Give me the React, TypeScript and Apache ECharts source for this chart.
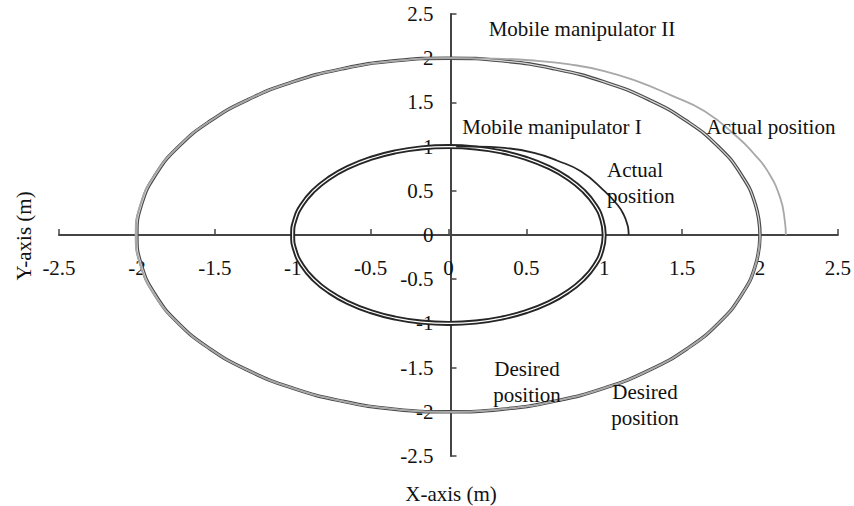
import React, { useEffect, useRef } from "react";
import * as echarts from "echarts";

const FONT = '"Liberation Serif", "Times New Roman", Times, serif';

const xTicks = { min: -2.5, max: 2.5, interval: 0.5 };
const yTicks = { min: -2.5, max: 2.5, interval: 0.5 };

// Desired trajectory, mobile manipulator I (radius 1)
const desiredI: [number, number][] = [
  [1, 0], [0.985, 0.174], [0.94, 0.342], [0.866, 0.5], [0.766, 0.643], [0.643, 0.766],
  [0.5, 0.866], [0.342, 0.94], [0.174, 0.985], [0, 1], [-0.174, 0.985], [-0.342, 0.94],
  [-0.5, 0.866], [-0.643, 0.766], [-0.766, 0.643], [-0.866, 0.5], [-0.94, 0.342], [-0.985, 0.174],
  [-1, 0], [-0.985, -0.174], [-0.94, -0.342], [-0.866, -0.5], [-0.766, -0.643], [-0.643, -0.766],
  [-0.5, -0.866], [-0.342, -0.94], [-0.174, -0.985], [0, -1], [0.174, -0.985], [0.342, -0.94],
  [0.5, -0.866], [0.643, -0.766], [0.766, -0.643], [0.866, -0.5], [0.94, -0.342], [0.985, -0.174],
  [1, 0],
];

// Desired trajectory, mobile manipulator II (radius 2)
const desiredII: [number, number][] = [
  [2, 0], [1.97, 0.347], [1.879, 0.684], [1.732, 1], [1.532, 1.286], [1.286, 1.532],
  [1, 1.732], [0.684, 1.879], [0.347, 1.97], [0, 2], [-0.347, 1.97], [-0.684, 1.879],
  [-1, 1.732], [-1.286, 1.532], [-1.532, 1.286], [-1.732, 1], [-1.879, 0.684], [-1.97, 0.347],
  [-2, 0], [-1.97, -0.347], [-1.879, -0.684], [-1.732, -1], [-1.532, -1.286], [-1.286, -1.532],
  [-1, -1.732], [-0.684, -1.879], [-0.347, -1.97], [0, -2], [0.347, -1.97], [0.684, -1.879],
  [1, -1.732], [1.286, -1.532], [1.532, -1.286], [1.732, -1], [1.879, -0.684], [1.97, -0.347],
  [2, 0],
];

// Actual trajectory, mobile manipulator I
const actualI: [number, number][] = [
  [1.157, 0], [1.155, 0.06], [1.15, 0.11], [1.125, 0.23], [1.086, 0.34], [1.0, 0.5],
  [0.85, 0.72], [0.7, 0.84], [0.55, 0.93], [0.36, 0.985], [0.18, 1.0], [0.05, 1.0],
];

// Actual trajectory, mobile manipulator II
const actualII: [number, number][] = [
  [2.166, 0], [2.16, 0.15], [2.13, 0.42], [2.05, 0.72], [1.96, 0.92], [1.86, 1.1],
  [1.645, 1.4], [1.43, 1.58], [1.21, 1.74], [1.0, 1.855], [0.78, 1.93], [0.57, 1.97],
  [0.3, 1.995], [0, 2], [-0.347, 1.97], [-0.684, 1.879], [-1, 1.732], [-1.286, 1.532],
  [-1.532, 1.286], [-1.735, 1.0], [-1.885, 0.684], [-1.977, 0.347], [-2.008, 0], [-1.977, -0.347],
  [-1.885, -0.684], [-1.735, -1], [-1.532, -1.286], [-1.286, -1.532], [-1, -1.732], [-0.684, -1.879],
  [-0.347, -1.97], [0, -2], [0.347, -1.97], [0.684, -1.879], [1, -1.732], [1.286, -1.532],
  [1.532, -1.286], [1.732, -1], [1.879, -0.684], [1.97, -0.347], [2, 0],
];

const annotations = [
  { text: "Mobile manipulator II", x: 582, y: 29, align: "center" },
  { text: "Mobile manipulator I", x: 552, y: 127, align: "center" },
  { text: "Actual position", x: 771, y: 127, align: "center" },
  { text: "Actual\nposition", x: 607, y: 183, align: "left" },
  { text: "Desired\nposition", x: 527, y: 382, align: "center" },
  { text: "Desired\nposition", x: 645, y: 405, align: "center" },
];

const GRID = { left: 59, right: 12, top: 14, bottom: 50 };

export default function App() {
  const ref = useRef<HTMLDivElement>(null);
  useEffect(() => {
    if (!ref.current) return;
    const chart = echarts.init(ref.current, null, { renderer: "svg" });
    const W = 854 - GRID.left - GRID.right;
    const H = 506 - GRID.top - GRID.bottom;
    const xZeroFromLeft = ((0 - xTicks.min) / (xTicks.max - xTicks.min)) * W;
    const yZeroFromBottom = ((0 - yTicks.min) / (yTicks.max - yTicks.min)) * H;
    const axisCommon = {
      type: "value" as const,
      axisLine: { onZero: false, lineStyle: { color: "#444", width: 2 } },
      axisTick: { show: true, inside: true, length: 6, lineStyle: { color: "#444", width: 1.5 } },
      splitLine: { show: false },
    };
    const line = (data: [number, number][], color: string, width: number, z: number) => ({
      type: "line",
      data,
      smooth: 0.5,
      showSymbol: false,
      symbol: "none",
      silent: true,
      z,
      lineStyle: { color, width },
    });
    chart.setOption({
      animation: false,
      backgroundColor: "#fff",
      grid: { ...GRID, containLabel: false },
      xAxis: {
        ...axisCommon,
        ...xTicks,
        position: "bottom",
        offset: -yZeroFromBottom,
        axisLabel: { fontFamily: FONT, fontSize: 21, color: "#111", margin: 22 },
      },
      yAxis: {
        ...axisCommon,
        ...yTicks,
        position: "left",
        offset: -xZeroFromLeft,
        axisLabel: { fontFamily: FONT, fontSize: 21, color: "#111", margin: 17 },
      },
      series: [
        line(desiredII, "#4a4a4a", 3.5, 2),
        line(desiredII, "#d8d8d8", 1.2, 3),
        line(actualII, "#a8a8a8", 1.8, 4),
        line(desiredI, "#262626", 5, 5),
        line(desiredI, "#ffffff", 1.2, 6),
        line(actualI, "#262626", 1.8, 7),
      ],
      graphic: [
        ...annotations.map((a) => ({
          type: "text",
          x: a.x,
          y: a.y,
          z: 100,
          style: {
            text: a.text,
            font: `21px ${FONT}`,
            fill: "#111",
            align: a.align,
            verticalAlign: "middle",
            lineHeight: 26,
          },
        })),
        {
          type: "text",
          x: 451,
          y: 494,
          style: { text: "X-axis (m)", font: `21px ${FONT}`, fill: "#111", align: "center", verticalAlign: "middle" },
        },
        {
          type: "text",
          x: 24,
          y: 236,
          rotation: Math.PI / 2,
          style: { text: "Y-axis (m)", font: `21px ${FONT}`, fill: "#111", align: "center", verticalAlign: "middle" },
        },
      ],
    });
    return () => chart.dispose();
  }, []);
  return <div ref={ref} style={{ width: 854, height: 506, position: "absolute", left: 0, top: 0 }} />;
}
